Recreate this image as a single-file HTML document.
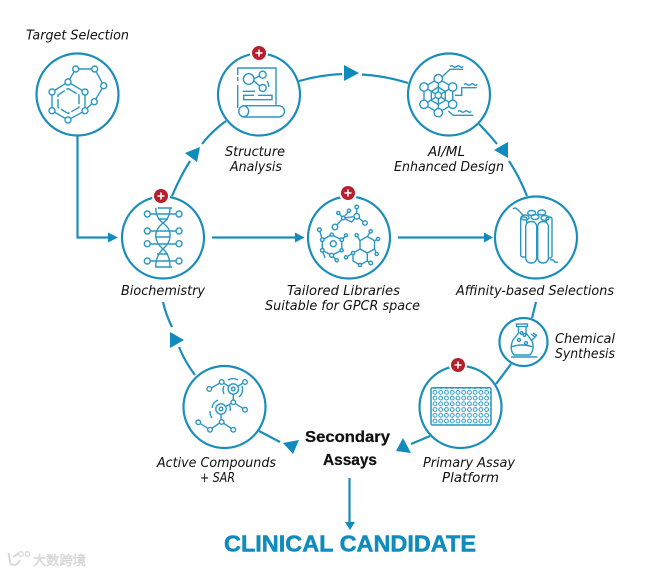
<!DOCTYPE html>
<html>
<head>
<meta charset="utf-8">
<style>
html,body{margin:0;padding:0;background:#fff}
svg{display:block}
.t{font-family:"DejaVu Sans","Liberation Sans",sans-serif;font-style:italic;font-size:13px;fill:#111}
.c{fill:#fff;stroke:#1a8dba;stroke-width:2.2}
.l{fill:none;stroke:#1a8dba;stroke-width:2.2}
.a{fill:#0f8cbd}
.i{fill:none;stroke:#2a97c2;stroke-width:1.4}
.i circle{fill:#fff}
.b{fill:#b5202f}
.p{stroke:#fff;stroke-width:1.6}
.s{font-family:"Liberation Sans",sans-serif;font-weight:700;font-size:15.5px;fill:#111;stroke:#111;stroke-width:.25}
</style>
</head>
<body>
<svg width="647" height="572" viewBox="0 0 647 572" xmlns="http://www.w3.org/2000/svg">
<defs>
<pattern id="w" x="432.1" y="389.5" width="5.74" height="5.73" patternUnits="userSpaceOnUse">
<circle cx="2.87" cy="2.87" r="1.9" fill="none" stroke="#2a97c2" stroke-width="1"/>
</pattern>
</defs>
<!-- connectors -->
<path class="l" d="M77.5 136V237.5H108"/>
<path class="l" d="M212 237.5H295"/>
<path class="l" d="M398 237.5H484"/>
<path class="l" d="M172 196Q180 177 190 161"/>
<path class="l" d="M202 144Q212 131 226 121"/>
<path class="l" d="M299 81Q320 75 342 74"/>
<path class="l" d="M362 74.5Q386 76 408 83"/>
<path class="l" d="M479 124Q489 134 497 144"/>
<path class="l" d="M509 161Q519 176 527 196"/>
<path class="l" d="M536 302L532 318"/>
<path class="l" d="M511 364L496 384"/>
<path class="l" d="M430 436L411 444"/>
<path class="l" d="M259 431L280 442"/>
<path class="l" d="M195 375Q185 362 179 347"/>
<path class="l" d="M172 327Q166 315 163 302"/>
<path class="l" d="M349.5 478V522"/>
<!-- arrowheads -->
<polygon class="a" points="108,232.500 118,237.500 108,242.500"/>
<polygon class="a" points="295,232.500 304.500,237.500 295,242.500"/>
<polygon class="a" points="484,232.500 493,237.500 484,242.500"/>
<polygon class="a" points="185,153 200,147 197,162"/>
<polygon class="a" points="344,65 344,81 359,73"/>
<polygon class="a" points="494,150 508,142 508,158"/>
<polygon class="a" points="396,451 403,438 411,453"/>
<polygon class="a" points="283,443 299,440 293,454"/>
<polygon class="a" points="170,332 184,340 170,348"/>
<polygon class="a" points="345,522 355,522 350,530"/>
<!-- circles -->
<circle class="c" cx="77.5" cy="94.5" r="41"/>
<circle class="c" cx="259" cy="94.5" r="41"/>
<circle class="c" cx="449" cy="94.5" r="41"/>
<circle class="c" cx="163" cy="237.5" r="41"/>
<circle class="c" cx="349" cy="237.5" r="41"/>
<circle class="c" cx="536" cy="237.5" r="41"/>
<circle class="c" cx="224.5" cy="407" r="41"/>
<circle class="c" cx="460.5" cy="407" r="41"/>
<circle class="c" cx="523.5" cy="342" r="24"/>

<!-- target icon -->
<g class="i">
<polygon points="68,82 85,92 85,110.700 68,120 52,110.700 52,92"/>
<polygon points="68,88.500 79,95 79,107.500 68,113.500 58,107.500 58,95" stroke-dasharray="10 2"/>
<path d="M68 82L75.700 69H94.700L103.700 85.700L94.300 101.700L85 110"/>
<circle cx="68" cy="82" r="3"/><circle cx="85" cy="92" r="3"/><circle cx="85" cy="110.700" r="3"/><circle cx="68" cy="120" r="3"/><circle cx="52" cy="110.700" r="3"/><circle cx="52" cy="92" r="3"/>
<circle cx="75.700" cy="69" r="3"/><circle cx="94.700" cy="69" r="3"/><circle cx="103.700" cy="85.700" r="3"/><circle cx="94.300" cy="101.700" r="3"/>
</g>
<!-- structure icon -->
<g class="i">
<path d="M237.700 75V68H276V104.700"/>
<path d="M237.700 77V81M237.700 85V108"/>
<circle cx="248.700" cy="79" r="5.300"/><circle cx="262.700" cy="74.700" r="3.500"/><circle cx="262.700" cy="88" r="3.500"/>
<path d="M253.500 79L259.500 76M253.500 80.500L259.500 86M267 81Q269 84 268.700 87"/>
<path d="M242.700 91.300H255.300M258 95.300H272V99.700H243.700V95.300H254"/>
<path d="M243.700 105.700H278.800a5.600 5.600 0 0 1 0 11.300H243.700a5.700 5.700 0 0 1 0-11.300Z"/>
<path d="M243.700 105.700a5.700 5.700 0 0 1 0 11.300"/>
</g>
<!-- AI icon -->
<g class="i">
<path d="M438.300 78.700L452.700 87V104.300L438.300 112.700L424 104.300V87ZM438.300 78.700V112.700M424 87L452.700 104.300M452.700 87L424 104.300"/>
<path d="M431.300 91.500L438.300 87L445.300 91.500V100.500L438.300 104.500L431.300 100.500Z"/>
<path d="M441.700 77.300L450 69.300H463.300M455 95.300H461.700V87.700H476.700M448.300 111L453.300 115.300H473.300"/>
<path d="M450 66.500q1.700-1.500 3.300 0t3.300 0t3.300 0t3.300 0M464 84.500q1.700-1.500 3.300 0t3.300 0t3.300 0t3.300 0M458 111.500q1.700-1.500 3.300 0t3.300 0t3.300 0t3.300 0"/>
<circle cx="438.300" cy="78.700" r="4.200"/><circle cx="424" cy="87" r="4.200"/><circle cx="452.700" cy="87" r="4.200"/><circle cx="438.300" cy="95.300" r="3.200"/><circle cx="424" cy="104.300" r="4.200"/><circle cx="452.700" cy="104.300" r="4.200"/><circle cx="438.300" cy="112.700" r="4.200"/>
</g>
<!-- DNA icon -->
<g class="i">
<path d="M155.700 208Q156 218 163 223Q171 229 170 236Q170 243 163 249Q156 255 155.700 267"/>
<path d="M170 208Q170 218 163 223Q155.700 229 155.700 236Q156 243 163 249Q170 255 170 267"/>
<path d="M150 214H176M150 231H176M150 244H176M150 261H176M158 208H172M158 219H168M156 237H170M157 254H168M155 267H172"/>
<circle cx="147.300" cy="214" r="3"/><circle cx="179" cy="214" r="3"/><circle cx="147.300" cy="231" r="3"/><circle cx="179" cy="231" r="3"/><circle cx="147.300" cy="243.700" r="3"/><circle cx="179" cy="243.700" r="3"/><circle cx="147.300" cy="261" r="3"/><circle cx="179" cy="261" r="3"/>
</g>
<!-- libraries icon -->
<g class="i">
<path d="M335 227L343.300 218L356.700 216.300L365 223M343.300 218L338.300 213M343.300 218L349 210.700M356.700 216.300V207M356.700 216.300L351.700 222L343.300 218"/>
<circle cx="335" cy="227" r="2.800"/><circle cx="343.300" cy="218" r="1.800"/><circle cx="356.700" cy="216.300" r="2.800"/><circle cx="365" cy="223" r="2.200"/><circle cx="338.300" cy="213" r="1.600"/><circle cx="349" cy="210.700" r="1.600"/><circle cx="356.700" cy="207" r="1.800"/>
<polygon points="331.700,234.700 341.700,239.700 341.700,250.300 331.700,255.300 322.300,250.300 322.300,239.700"/>
<circle cx="333.300" cy="243.700" r="3"/>
<path d="M322.300 239.700L319.300 229.700M341.700 239.700L346 235.300M331.700 255.300L336.700 260.300M322.300 250.300L325 258"/>
<circle cx="319.300" cy="229.700" r="1.800"/><circle cx="331.700" cy="234.700" r="1.600"/><circle cx="341.700" cy="239.700" r="1.800"/><circle cx="346" cy="235.300" r="1.500"/><circle cx="341.700" cy="250.300" r="1.600"/><circle cx="331.700" cy="255.300" r="2"/><circle cx="336.700" cy="260.300" r="1.600"/><circle cx="322.300" cy="250.300" r="1.800"/><circle cx="322.300" cy="239.700" r="1.800"/>
<polygon points="367.300,236.500 374.500,240.700 374.500,249 367.300,253 360,249 360,240.700"/>
<polygon points="360,249 367.300,253 367.300,261 360,265 353,261 353,253"/>
<path d="M360 240.700L356.700 235.300M367.300 236.500L370.700 231.300M374.500 240.700L378 239M374.500 249L376.700 254M367.300 261L370.700 263M353 253L346 257.300"/>
<circle cx="356.700" cy="235.300" r="1.600"/><circle cx="370.700" cy="231.300" r="1.600"/><circle cx="378" cy="239" r="1.600"/><circle cx="376.700" cy="254" r="1.600"/><circle cx="370.700" cy="263" r="1.800"/><circle cx="346" cy="257.300" r="1.600"/><circle cx="360" cy="265" r="1.600"/><circle cx="353" cy="253" r="1.600"/>
</g>
<!-- affinity icon -->
<g class="i">
<path d="M513 209q2-2 4 0t3 3t3 3"/>
<rect x="520.700" y="217" width="6" height="40" rx="2"/>
<rect x="546" y="217" width="6" height="41" rx="2"/>
<ellipse cx="531.700" cy="213" rx="4" ry="2.500"/><ellipse cx="541.700" cy="212.500" rx="4" ry="2.500"/>
<ellipse cx="525" cy="217.500" rx="4" ry="2.500"/><ellipse cx="535" cy="217" rx="4" ry="2.500"/><ellipse cx="545" cy="218" rx="4" ry="2.500"/>
<rect x="525.700" y="221.500" width="11" height="41.500" rx="5" fill="#fff"/>
<rect x="537.700" y="221.500" width="10.700" height="41.500" rx="5" fill="#fff"/>
<path d="M550 260q3-1 4 1t4 1"/>
</g>
<!-- flask icon -->
<g class="i">
<rect x="516.500" y="324" width="11" height="2.500"/>
<path d="M518.500 327V333L513 340Q509 349 514 355H530Q535 349 532 341L526 333V327"/>
<path d="M511 347Q522 343 533 347"/>
<path d="M511 357H537.500"/>
<path d="M531 334L535 337M531 341L537 335M533 333l4 2.500"/>
<circle cx="521.500" cy="333" r="1.300"/><circle cx="524.500" cy="335" r="1.300"/><circle cx="519" cy="340" r="1.500"/><circle cx="526" cy="343" r="1.500"/>
</g>
<!-- active icon -->
<g class="i">
<path d="M209.300 389L221.700 382L233.300 389L245 382M233.300 389V402.300L245 409.700M233.300 402.300L221 409V422L210 429.700L198.300 422.300M221.700 422L233.300 429.700"/>
<path d="M224 386a9.500 9.500 0 0 0 0 8M228 380a10 10 0 0 1 10 0M242 386a10 10 0 0 1-3 11M212 408a9.500 9.500 0 0 1 6-8M212 418a11 11 0 0 1-2-7M229 404a9 9 0 0 1 1 7"/>
<circle cx="233.300" cy="389" r="5.200"/><circle cx="233.300" cy="389" r="1.800"/>
<circle cx="221" cy="409" r="5.200"/><circle cx="221" cy="409" r="1.800"/>
<circle cx="209.300" cy="389" r="2.300"/><circle cx="221.700" cy="382" r="2.300"/><circle cx="245" cy="382" r="2.300"/><circle cx="233.300" cy="402.300" r="2.300"/><circle cx="245" cy="409.700" r="2.300"/><circle cx="221.700" cy="422" r="2.300"/><circle cx="198.300" cy="422.300" r="2.300"/><circle cx="210" cy="429.700" r="2.300"/><circle cx="233.300" cy="429.700" r="2.300"/>
</g>
<!-- plate icon -->
<rect x="431" y="387.700" width="60" height="37.300" rx="1.500" fill="url(#w)" stroke="#2a97c2" stroke-width="1.500"/>

<!-- badges -->
<g>
<circle cx="259" cy="53" r="9" fill="#fff"/><circle class="b" cx="259" cy="53" r="7"/><path class="p" d="M255.500 53h7M259 49.500v7"/>
<circle cx="161" cy="196" r="9" fill="#fff"/><circle class="b" cx="161" cy="196" r="7"/><path class="p" d="M157.500 196h7M161 192.500v7"/>
<circle cx="348" cy="193" r="9" fill="#fff"/><circle class="b" cx="348" cy="193" r="7"/><path class="p" d="M344.500 193h7M348 189.500v7"/>
<circle cx="458" cy="365" r="9" fill="#fff"/><circle class="b" cx="458" cy="365" r="7"/><path class="p" d="M454.500 365h7M458 361.500v7"/>
</g>

<!-- labels -->
<text class="t" x="26" y="39.500" textLength="103" lengthAdjust="spacingAndGlyphs">Target Selection</text>
<text class="t" x="225" y="156" textLength="60" lengthAdjust="spacingAndGlyphs">Structure</text>
<text class="t" x="230" y="171" textLength="52" lengthAdjust="spacingAndGlyphs">Analysis</text>
<text class="t" x="428" y="156" textLength="37" lengthAdjust="spacingAndGlyphs">AI/ML</text>
<text class="t" x="394" y="171" textLength="110" lengthAdjust="spacingAndGlyphs">Enhanced Design</text>
<text class="t" x="121" y="295" textLength="84" lengthAdjust="spacingAndGlyphs">Biochemistry</text>
<text class="t" x="287" y="295" textLength="113" lengthAdjust="spacingAndGlyphs">Tailored Libraries</text>
<text class="t" x="265" y="310" textLength="155" lengthAdjust="spacingAndGlyphs">Suitable for GPCR space</text>
<text class="t" x="456" y="295" textLength="158" lengthAdjust="spacingAndGlyphs">Affinity-based Selections</text>
<text class="t" x="555" y="343" textLength="60" lengthAdjust="spacingAndGlyphs">Chemical</text>
<text class="t" x="555" y="358" textLength="60" lengthAdjust="spacingAndGlyphs">Synthesis</text>
<text class="t" x="157" y="467" textLength="119" lengthAdjust="spacingAndGlyphs">Active Compounds</text>
<text class="t" x="200" y="482" textLength="35" lengthAdjust="spacingAndGlyphs">+ SAR</text>
<text class="t" x="423" y="467" textLength="92" lengthAdjust="spacingAndGlyphs">Primary Assay</text>
<text class="t" x="442" y="482" textLength="57" lengthAdjust="spacingAndGlyphs">Platform</text>
<text class="s" x="305" y="442" textLength="85" lengthAdjust="spacingAndGlyphs">Secondary</text>
<text class="s" x="323" y="465" textLength="54" lengthAdjust="spacingAndGlyphs">Assays</text>
<text x="224" y="551.500" textLength="252" lengthAdjust="spacingAndGlyphs" font-family="Liberation Sans, sans-serif" font-weight="700" font-size="23" fill="#0f8cbd" stroke="#0f8cbd" stroke-width=".5">CLINICAL CANDIDATE</text>

<!-- watermark -->
<g fill="none" stroke="#d8d8d8" stroke-width="2">
<path d="M8.500 553L10.500 564Q17 567 20 560M13 557L19 553"/>
<circle cx="21" cy="554" r="2.300" stroke-width="1.300"/><circle cx="27.500" cy="554" r="2.300" stroke-width="1.300"/>
</g>
<text x="33" y="565" textLength="53" lengthAdjust="spacingAndGlyphs" font-family="Liberation Sans, Noto Sans CJK SC, sans-serif" font-size="13" fill="#e2e2e2" stroke="#cfcfcf" stroke-width=".4">大数跨境</text>
</svg>
</body>
</html>
